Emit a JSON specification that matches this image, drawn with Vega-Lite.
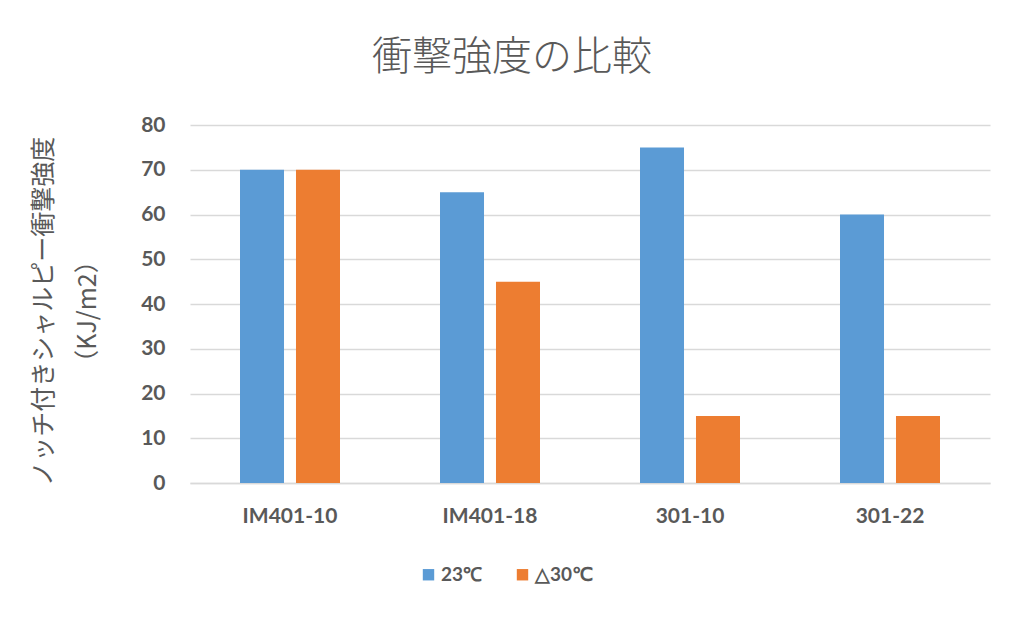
{
  "$schema": "https://vega.github.io/schema/vega-lite/v6.json",
  "width": 800,
  "height": 358,
  "autosize": {"type": "none"},
  "padding": {"left": 190, "top": 125, "right": 34, "bottom": 135},
  "background": "white",
  "title": {
    "text": "衝撃強度の比較",
    "font": "Noto Sans CJK JP",
    "fontSize": 40,
    "fontWeight": 300,
    "color": "#595959",
    "anchor": "middle",
    "dx": -78,
    "offset": 36
  },
  "data": {
    "values": [
      {"sample": "IM401-10", "temp": "23℃", "value": 70},
      {"sample": "IM401-10", "temp": "△30℃", "value": 70},
      {"sample": "IM401-18", "temp": "23℃", "value": 65},
      {"sample": "IM401-18", "temp": "△30℃", "value": 45},
      {"sample": "301-10", "temp": "23℃", "value": 75},
      {"sample": "301-10", "temp": "△30℃", "value": 15},
      {"sample": "301-22", "temp": "23℃", "value": 60},
      {"sample": "301-22", "temp": "△30℃", "value": 15}
    ]
  },
  "mark": {"type": "bar"},
  "encoding": {
    "x": {
      "field": "sample",
      "type": "nominal",
      "sort": ["IM401-10", "IM401-18", "301-10", "301-22"],
      "scale": {"paddingInner": 0.5, "paddingOuter": 0.25},
      "axis": {
        "title": null,
        "labelAngle": 0,
        "labelFont": "Lato",
        "labelFontSize": 21,
        "labelFontWeight": "bold",
        "labelColor": "#595959",
        "labelPadding": 22,
        "ticks": false,
        "domainColor": "#D9D9D9",
        "domainWidth": 1.5,
        "grid": false
      }
    },
    "xOffset": {
      "field": "temp",
      "type": "nominal",
      "sort": ["23℃", "△30℃"],
      "scale": {"paddingInner": 0.214, "paddingOuter": 0}
    },
    "y": {
      "field": "value",
      "type": "quantitative",
      "scale": {"domain": [0, 80]},
      "axis": {
        "title": ["ノッチ付きシャルピー衝撃強度", "（KJ/m2）"],
        "titleFont": "Noto Sans CJK JP",
        "titleFontSize": 25,
        "titleFontWeight": "normal",
        "titleColor": "#595959",
        "titleLineHeight": 44,
        "titlePadding": 40,
        "titleY": 186,
        "values": [0, 10, 20, 30, 40, 50, 60, 70, 80],
        "labelOverlap": false,
        "labelFont": "Lato",
        "labelFontSize": 21,
        "labelFontWeight": "bold",
        "labelColor": "#595959",
        "labelPadding": 25,
        "ticks": false,
        "domain": false,
        "gridColor": "#D9D9D9",
        "gridWidth": 1.5
      }
    },
    "color": {
      "field": "temp",
      "type": "nominal",
      "sort": ["23℃", "△30℃"],
      "scale": {"range": ["#5B9BD5", "#ED7D31"]},
      "legend": {
        "title": null,
        "orient": "none",
        "direction": "horizontal",
        "legendX": 229,
        "legendY": 440,
        "symbolType": "square",
        "symbolSize": 130,
        "symbolStrokeWidth": 0,
        "labelFont": "Lato",
        "labelFontSize": 19,
        "labelFontWeight": "bold",
        "labelColor": "#595959",
        "columnPadding": 30,
        "labelOffset": 3
      }
    }
  },
  "config": {"view": {"stroke": null}}
}
